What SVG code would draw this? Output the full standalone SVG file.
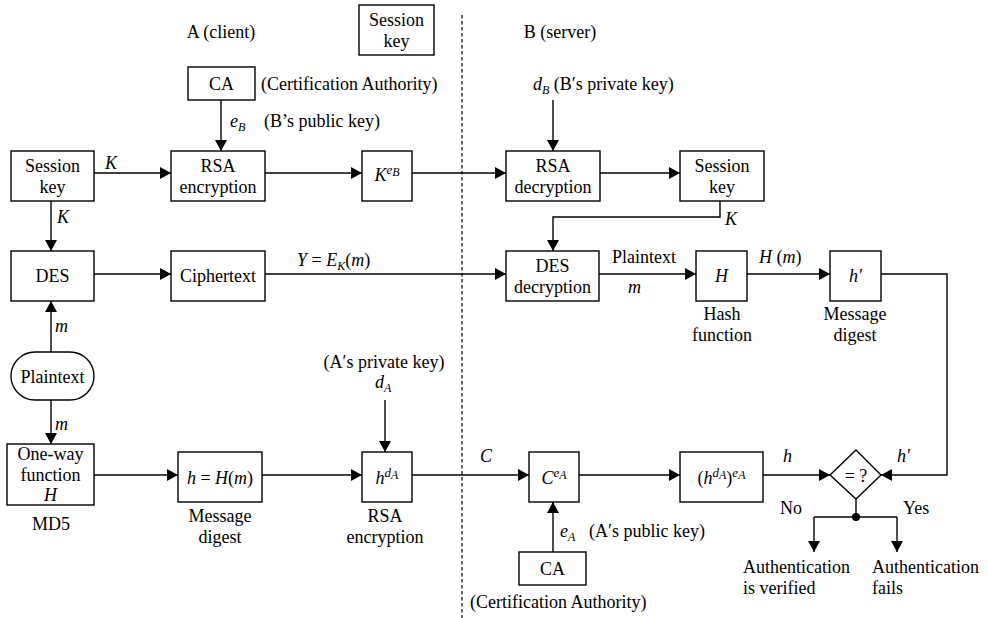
<svg xmlns="http://www.w3.org/2000/svg" width="988" height="618" viewBox="0 0 988 618" font-family="'Liberation Serif', 'Times New Roman', Times, 'Nimbus Roman', 'Nimbus Roman No9 L', FreeSerif, 'Noto Serif', Tinos, 'DejaVu Serif', serif" font-size="18">
<defs>
<marker id="ah" markerWidth="12" markerHeight="12" refX="11" refY="6" orient="auto" markerUnits="userSpaceOnUse">
<path d="M0,0 L11,6 L0,12 z" fill="#000"/>
</marker>
<style>
text{font-family:'Liberation Serif','Times New Roman',Times,'Nimbus Roman','Nimbus Roman No9 L',FreeSerif,'Noto Serif',Tinos,'DejaVu Serif',serif;font-size:18px;fill:#000}
.c{text-anchor:middle}
.i{font-style:italic}
.box{fill:#fff;stroke:#000;stroke-width:1.4}
.ln{fill:none;stroke:#000;stroke-width:1.4}
.ar{fill:none;stroke:#000;stroke-width:1.4;marker-end:url(#ah)}
.sup{font-size:13px;font-style:italic}
.sub{font-size:12px;font-style:italic}
</style>
</defs>
<rect width="988" height="618" fill="#fff"/>

<line x1="462" y1="15" x2="462" y2="618" stroke="#000" stroke-width="1.2" stroke-dasharray="3.5 2.5"/>

<text x="221" y="38" class="c">A (client)</text>
<text x="560" y="38" class="c">B (server)</text>

<g id="legend-session-key"><rect x="359" y="5" width="75" height="50" class="box"/><text x="396.5" y="26" class="c">Session</text><text x="396.5" y="47" class="c">key</text></g>

<g id="connectors">
<path d="M221,100 V151" class="ar"/>
<path d="M94,173 H171" class="ar"/>
<path d="M265,173 H362" class="ar"/>
<path d="M412,173 H506" class="ar"/>
<path d="M553,100 V151" class="ar"/>
<path d="M600,173 H680" class="ar"/>
<path d="M720,201 V217 H553 V251" class="ar"/>
<path d="M51,201 V251" class="ar"/>
<path d="M94,274 H171" class="ar"/>
<path d="M265,274 H506" class="ar"/>
<path d="M599,274 H696" class="ar"/>
<path d="M747,274 H830" class="ar"/>
<path d="M881,274 H947 V475 H881" class="ar"/>
<path d="M51,352 V301" class="ar"/>
<path d="M51,400 V444" class="ar"/>
<path d="M94,475 H178" class="ar"/>
<path d="M262,475 H362" class="ar"/>
<path d="M385,400 V452" class="ar"/>
<path d="M412,475 H529" class="ar"/>
<path d="M579,475 H680" class="ar"/>
<path d="M763,475 H830" class="ar"/>
<path d="M553,552 V502" class="ar"/>
<path d="M856,499 V517" class="ln"/>
<path d="M814,517 H897" class="ln"/>
<path d="M814,517 V552" class="ar"/>
<path d="M897,517 V552" class="ar"/>
<circle cx="856" cy="517" r="4" fill="#000"/>
</g>

<g id="ca-top"><rect x="188" y="67" width="67" height="33" class="box"/><text x="221.5" y="90" class="c">CA</text></g>
<text x="261" y="90">(Certification Authority)</text>
<text x="230" y="127"><tspan class="i">e</tspan><tspan class="sub" dy="4">B</tspan></text>
<text x="264" y="127">(B’s public key)</text>

<g id="session-key-a"><rect x="11" y="151" width="83" height="50" class="box"/><text x="52.5" y="172" class="c">Session</text><text x="52.5" y="193" class="c">key</text></g>
<text x="105" y="169" class="i">K</text>
<g id="rsa-enc"><rect x="171" y="151" width="94" height="50" class="box"/><text x="218" y="172" class="c">RSA</text><text x="218" y="193" class="c">encryption</text></g>
<g id="k-eb"><rect x="362" y="151" width="50" height="50" class="box"/><text x="387" y="181" class="c"><tspan class="i">K</tspan><tspan class="sup" dy="-7">e</tspan><tspan class="sub" dy="2">B</tspan></text></g>

<text x="533" y="90"><tspan class="i">d</tspan><tspan class="sub" dy="4">B</tspan><tspan dy="-4">  (B′s private key)</tspan></text>
<g id="rsa-dec"><rect x="506" y="151" width="94" height="50" class="box"/><text x="553" y="172" class="c">RSA</text><text x="553" y="193" class="c">decryption</text></g>
<g id="session-key-b"><rect x="680" y="151" width="84" height="50" class="box"/><text x="722" y="172" class="c">Session</text><text x="722" y="193" class="c">key</text></g>
<text x="725" y="225" class="i">K</text>

<text x="57" y="223" class="i">K</text>
<g id="des"><rect x="11" y="251" width="83" height="50" class="box"/><text x="52.5" y="282" class="c">DES</text></g>
<g id="ciphertext"><rect x="171" y="251" width="94" height="50" class="box"/><text x="218" y="282" class="c">Ciphertext</text></g>
<text x="297" y="266"><tspan class="i">Y</tspan> = <tspan class="i">E</tspan><tspan class="sub" dy="4">K</tspan><tspan dy="-4">(</tspan><tspan class="i">m</tspan>)</text>
<g id="des-dec"><rect x="506" y="251" width="93" height="50" class="box"/><text x="552.5" y="272" class="c">DES</text><text x="552.5" y="293" class="c">decryption</text></g>
<text x="612" y="263">Plaintext</text>
<text x="628" y="293" class="i">m</text>
<g id="hash"><rect x="696" y="251" width="51" height="50" class="box"/><text x="721.5" y="282" class="c i">H</text><text x="722" y="320" class="c">Hash</text><text x="722" y="341" class="c">function</text></g>
<text x="759" y="263"><tspan class="i">H</tspan> (<tspan class="i">m</tspan>)</text>
<g id="h-prime"><rect x="830" y="251" width="51" height="50" class="box"/><text x="855.5" y="282" class="c i">h′</text><text x="855" y="320" class="c">Message</text><text x="855" y="341" class="c">digest</text></g>

<text x="55" y="332" class="i">m</text>
<g id="plaintext"><rect x="11" y="352" width="83" height="48" rx="24" ry="24" class="box"/><text x="52.5" y="383" class="c">Plaintext</text></g>
<text x="55" y="430" class="i">m</text>

<text x="384" y="368" class="c">(A′s private key)</text>
<text x="375" y="388"><tspan class="i">d</tspan><tspan class="sub" dy="4">A</tspan></text>

<g id="one-way"><rect x="7" y="444" width="87" height="61" class="box"/><text x="50.5" y="460" class="c">One-way</text><text x="50.5" y="481" class="c">function</text><text x="50.5" y="501" class="c i">H</text></g>
<text x="51" y="530" class="c">MD5</text>
<g id="h-hm"><rect x="178" y="452" width="84" height="50" class="box"/><text x="220" y="484" class="c"><tspan class="i">h</tspan> = <tspan class="i">H</tspan>(<tspan class="i">m</tspan>)</text><text x="220" y="522" class="c">Message</text><text x="220" y="543" class="c">digest</text></g>
<g id="h-da"><rect x="362" y="452" width="50" height="50" class="box"/><text x="387" y="484" class="c"><tspan class="i">h</tspan><tspan class="sup" dy="-7">d</tspan><tspan class="sub" dy="2">A</tspan></text><text x="385" y="522" class="c">RSA</text><text x="385" y="543" class="c">encryption</text></g>
<text x="480" y="462" class="i">C</text>
<g id="c-ea"><rect x="529" y="452" width="50" height="50" class="box"/><text x="554" y="484" class="c"><tspan class="i">C</tspan><tspan class="sup" dy="-7">e</tspan><tspan class="sub" dy="2">A</tspan></text></g>
<text x="560" y="537"><tspan class="i">e</tspan><tspan class="sub" dy="4">A</tspan></text>
<text x="589" y="537">(A′s public key)</text>
<g id="ca-bottom"><rect x="519" y="552" width="67" height="33" class="box"/><text x="552.5" y="575" class="c">CA</text></g>
<text x="470" y="608">(Certification Authority)</text>

<g id="h-da-ea"><rect x="680" y="452" width="83" height="50" class="box"/><text x="721.5" y="484" class="c">(<tspan class="i">h</tspan><tspan class="sup" dy="-7">d</tspan><tspan class="sub" dy="2">A</tspan><tspan dy="5">)</tspan><tspan class="sup" dy="-7">e</tspan><tspan class="sub" dy="2">A</tspan></text></g>
<text x="783" y="462" class="i">h</text>
<g id="compare"><path d="M856,450 L881,475 L856,499 L830,475 Z" class="box"/><text x="856" y="482" class="c">= ?</text></g>
<text x="897" y="462" class="i">h′</text>
<text x="780" y="514">No</text>
<text x="903" y="514">Yes</text>
<text x="743" y="573">Authentication</text>
<text x="743" y="594">is verified</text>
<text x="872" y="573">Authentication</text>
<text x="872" y="594">fails</text>
</svg>
